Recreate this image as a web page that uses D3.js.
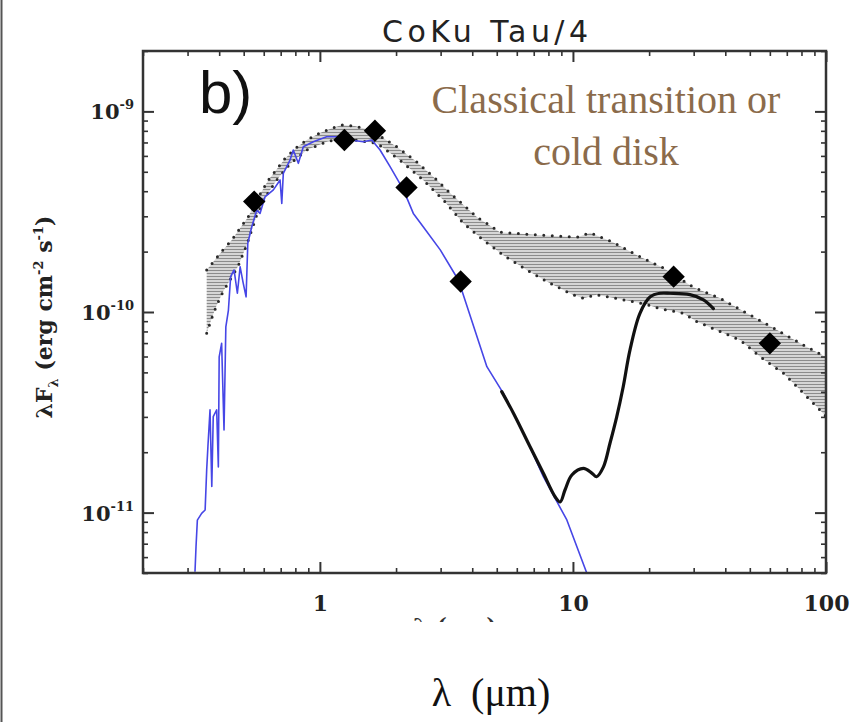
<!DOCTYPE html>
<html>
<head>
<meta charset="utf-8">
<script src="https://cdn.jsdelivr.net/npm/d3@7"></script>
<style>
  body { margin: 0; background: #fff; }
  svg { display: block; }
</style>
</head>
<body>
<script>
// ---- chart data ----
const title = "CoKu Tau/4"
const panelTag = "b)"
const classLines = ["Classical transition or", "cold disk"]
const xTickValues = [1, 10, 100]
const yTickValues = [1e-9, 1e-10, 1e-11]
const yTickExp = ["-9", "-10", "-11"]

// quartile band of the median Taurus SED, [lambda (um), lambda F_lambda]
const bandUpper = [
  [0.357, 1.62e-10], [0.385, 1.82e-10], [0.414, 2.04e-10], [0.448, 2.28e-10],
  [0.484, 2.62e-10], [0.52, 2.97e-10], [0.569, 3.70e-10], [0.626, 4.55e-10],
  [0.729, 5.83e-10], [0.805, 6.57e-10], [0.887, 7.2e-10], [1.0, 7.8e-10],
  [1.114, 8.23e-10], [1.22, 8.55e-10], [1.377, 8.45e-10], [1.578, 8.07e-10],
  [1.777, 7.37e-10], [2.01, 6.67e-10], [2.41, 5.61e-10], [2.9, 4.55e-10],
  [3.27, 3.92e-10], [4.18, 2.97e-10], [5.15, 2.50e-10], [7.22, 2.42e-10],
  [10.4, 2.36e-10], [11.7, 2.48e-10], [14.4, 2.23e-10], [17.9, 1.92e-10],
  [22.7, 1.66e-10], [29.9, 1.33e-10], [38.2, 1.17e-10], [50.1, 9.66e-11],
  [64.1, 8.13e-11], [81.2, 6.85e-11], [100, 5.96e-11]
]
const bandLower = [
  [0.357, 7.83e-11], [0.374, 9.33e-11], [0.391, 1.08e-10], [0.414, 1.26e-10],
  [0.441, 1.44e-10], [0.475, 1.69e-10], [0.514, 2.16e-10], [0.563, 3.04e-10],
  [0.617, 3.83e-10], [0.675, 4.55e-10], [0.762, 5.47e-10], [0.887, 6.42e-10],
  [1.065, 7.06e-10], [1.238, 7.34e-10], [1.68, 6.93e-10], [2.07, 5.72e-10],
  [2.56, 4.55e-10], [3.08, 3.61e-10], [3.69, 2.77e-10], [4.43, 2.28e-10],
  [5.31, 1.92e-10], [6.57, 1.62e-10], [8.12, 1.39e-10], [10.0, 1.22e-10],
  [11.0, 1.17e-10], [12.4, 1.22e-10], [15.8, 1.15e-10], [19.0, 1.10e-10],
  [22.1, 1.04e-10], [27.3, 9.85e-11], [30.9, 8.95e-11], [37.0, 8.13e-11],
  [45.8, 7.25e-11], [54.9, 5.98e-11], [67.9, 4.95e-11], [81.5, 3.93e-11],
  [92.0, 3.37e-11], [100, 3.01e-11]
]

// stellar photosphere model (blue)
const photosphere = [
  [0.321, 5.07e-12], [0.324, 6.76e-12], [0.328, 9.18e-12], [0.341, 9.92e-12],
  [0.352, 1.03e-11], [0.357, 1.63e-11], [0.361, 2.13e-11], [0.368, 3.25e-11],
  [0.374, 1.35e-11], [0.379, 3.01e-11], [0.391, 3.25e-11], [0.397, 1.69e-11],
  [0.400, 5.98e-11], [0.409, 6.98e-11], [0.418, 2.58e-11], [0.425, 8.44e-11],
  [0.435, 1.02e-10], [0.444, 1.50e-10], [0.458, 1.62e-10], [0.472, 1.24e-10],
  [0.484, 1.68e-10], [0.498, 1.39e-10], [0.511, 1.19e-10], [0.519, 2.20e-10],
  [0.538, 2.66e-10], [0.563, 3.22e-10], [0.580, 3.10e-10], [0.607, 3.75e-10],
  [0.655, 4.06e-10], [0.696, 4.55e-10], [0.707, 3.48e-10], [0.717, 4.91e-10],
  [0.762, 5.72e-10], [0.785, 6.42e-10], [0.822, 5.51e-10], [0.860, 6.67e-10],
  [0.942, 7.06e-10], [1.064, 7.48e-10], [1.166, 7.48e-10], [1.316, 7.20e-10],
  [1.485, 7.06e-10], [1.603, 7.20e-10], [1.729, 6.42e-10], [1.894, 5.30e-10],
  [2.14, 4.06e-10], [2.34, 3.10e-10], [2.56, 2.66e-10], [2.99, 2.04e-10],
  [3.53, 1.44e-10], [4.57, 5.34e-11], [5.31, 3.93e-11], [6.57, 2.30e-11],
  [7.64, 1.51e-11], [9.46, 9.19e-12], [11.34, 5.0e-12]
]

// Spitzer IRS spectrum (black)
const irsSpectrum = [
  [5.23, 4.01e-11], [5.82, 3.13e-11], [6.77, 2.13e-11], [7.64, 1.57e-11],
  [8.50, 1.20e-11], [8.90, 1.13e-11], [9.31, 1.30e-11], [9.90, 1.54e-11],
  [11.0, 1.66e-11], [11.9, 1.57e-11], [12.4, 1.51e-11], [13.2, 1.69e-11],
  [14.0, 2.21e-11], [14.9, 3.01e-11], [15.8, 4.24e-11], [16.8, 6.46e-11],
  [18.4, 9.85e-11], [20.2, 1.19e-10], [22.1, 1.24e-10], [24.2, 1.24e-10],
  [29.0, 1.22e-10], [32.8, 1.15e-10], [35.9, 1.04e-10]
]

// broad-band photometry (diamonds)
const photometry = [
  [0.55, 3.55e-10], [1.25, 7.2e-10], [1.65, 8.01e-10], [2.2, 4.18e-10],
  [3.6, 1.42e-10], [25, 1.50e-10], [60, 6.98e-11]
]

// ---- layout ----
const W = 852, H = 722
const box = { left: 143, right: 826, top: 51, bottom: 573 }

const svg = d3.select("body").append("svg")
  .attr("width", W)
  .attr("height", H)

const x = d3.scaleLog().domain([0.2, 100]).range([box.left, box.right])
const y = d3.scaleLog().domain([5e-12, 2e-9]).range([box.bottom, box.top])

const defs = svg.append("defs")
defs.append("clipPath").attr("id", "plotclip")
  .append("rect")
  .attr("x", box.left).attr("y", box.top)
  .attr("width", box.right - box.left).attr("height", box.bottom - box.top)

// horizontal hatching used for the band
const hatch = defs.append("pattern")
  .attr("id", "hatch")
  .attr("patternUnits", "userSpaceOnUse")
  .attr("width", 8).attr("height", 3)
hatch.append("rect").attr("width", 8).attr("height", 3).attr("fill", "#d6d6d6")
hatch.append("line")
  .attr("x1", 0).attr("x2", 8).attr("y1", 0.5).attr("y2", 0.5)
  .attr("stroke", "#8c8c8c").attr("stroke-width", 1)

// clip for the half-hidden original axis title below the ticks
defs.append("clipPath").attr("id", "cutclip")
  .append("rect").attr("x", 380).attr("y", 600).attr("width", 160).attr("height", 22)

// left page border
svg.append("line")
  .attr("x1", 1.5).attr("x2", 1.5).attr("y1", 0).attr("y2", H)
  .attr("stroke", "#555").attr("stroke-width", 2)

const plot = svg.append("g").attr("clip-path", "url(#plotclip)")

const line = d3.line()
  .x(d => x(d[0]))
  .y(d => y(d[1]))

// band
const bandPoly = bandUpper.concat(bandLower.slice().reverse())
plot.append("path")
  .attr("d", line(bandPoly) + "Z")
  .attr("fill", "url(#hatch)")
  .attr("stroke", "none")

for (const edge of [bandUpper, bandLower]) {
  plot.append("path")
    .attr("d", line(edge))
    .attr("fill", "none")
    .attr("stroke", "#2a2a2a")
    .attr("stroke-width", 3)
    .attr("stroke-linecap", "round")
    .attr("stroke-dasharray", "0,8.5")
}

// photosphere
plot.append("path")
  .attr("d", line(photosphere))
  .attr("fill", "none")
  .attr("stroke", "#4646e6")
  .attr("stroke-width", 1.6)
  .attr("stroke-linejoin", "round")

// IRS spectrum
plot.append("path")
  .attr("d", line.curve(d3.curveCatmullRom)(irsSpectrum))
  .attr("fill", "none")
  .attr("stroke", "#111")
  .attr("stroke-width", 3.2)
  .attr("stroke-linecap", "round")
line.curve(d3.curveLinear)

// photometry diamonds
const diamond = d3.symbol().type(d3.symbolSquare).size(250)
plot.selectAll(".phot")
  .data(photometry)
  .join("path")
  .attr("class", "phot")
  .attr("d", diamond)
  .attr("transform", d => `translate(${x(d[0])},${y(d[1])}) rotate(45)`)
  .attr("fill", "#000")

// ---- axes ----
const isMajor = v => Math.abs(Math.log10(v) - Math.round(Math.log10(v))) < 1e-6
const xMinor = x.ticks().filter(v => !isMajor(v))
const yMinor = y.ticks().filter(v => !isMajor(v))
const axisColor = "#333"

function drawTicks(axis, translate, values, size, width, labels) {
  const g = svg.append("g")
    .attr("transform", translate)
    .call(axis.tickValues(values).tickSizeInner(-size).tickSizeOuter(0)
      .tickPadding(22).tickFormat(labels ? d => d : ""))
  g.select(".domain").remove()
  g.selectAll(".tick line").attr("stroke", axisColor).attr("stroke-width", width)
  return g
}

const xLab = drawTicks(d3.axisBottom(x), `translate(0,${box.bottom})`, xTickValues, 11, 2, true)
xLab.selectAll("text")
  .attr("font-family", "DejaVu Serif")
  .attr("font-weight", "bold")
  .attr("font-size", 22)
  .attr("fill", "#222")
drawTicks(d3.axisBottom(x), `translate(0,${box.bottom})`, xMinor, 5, 1.6, false)
drawTicks(d3.axisTop(x), `translate(0,${box.top})`, xTickValues, 11, 2, false)
drawTicks(d3.axisTop(x), `translate(0,${box.top})`, xMinor, 5, 1.6, false)
drawTicks(d3.axisLeft(y), `translate(${box.left},0)`, yTickValues, 11, 2, false)
drawTicks(d3.axisLeft(y), `translate(${box.left},0)`, yMinor, 5, 1.6, false)
drawTicks(d3.axisRight(y), `translate(${box.right},0)`, yTickValues, 11, 2, false)
drawTicks(d3.axisRight(y), `translate(${box.right},0)`, yMinor, 5, 1.6, false)

// frame
svg.append("rect")
  .attr("x", box.left).attr("y", box.top)
  .attr("width", box.right - box.left).attr("height", box.bottom - box.top)
  .attr("fill", "none")
  .attr("stroke", axisColor)
  .attr("stroke-width", 2.5)

// y tick labels with exponents
yTickValues.forEach((v, i) => {
  const t = svg.append("text")
    .attr("x", 134)
    .attr("y", y(v) + 8)
    .attr("text-anchor", "end")
    .attr("font-family", "DejaVu Serif")
    .attr("font-weight", "bold")
    .attr("font-size", 21)
    .attr("fill", "#222")
  t.append("tspan").text("10")
  t.append("tspan").attr("dy", -10).attr("font-size", 13).text(yTickExp[i])
})

// y axis title
const yTitle = svg.append("text")
  .attr("transform", "translate(52,317) rotate(-90)")
  .attr("text-anchor", "middle")
  .attr("font-family", "DejaVu Serif")
  .attr("font-weight", "bold")
  .attr("font-size", 22)
  .attr("fill", "#222")
yTitle.append("tspan").text("\u03bbF")
yTitle.append("tspan").attr("dy", 6).attr("font-size", 13).text("\u03bb")
yTitle.append("tspan").attr("dy", -6).text(" (erg cm")
yTitle.append("tspan").attr("dy", -9).attr("font-size", 13).text("-2")
yTitle.append("tspan").attr("dy", 9).text(" s")
yTitle.append("tspan").attr("dy", -9).attr("font-size", 13).text("-1")
yTitle.append("tspan").attr("dy", 9).text(")")

// title
svg.append("text")
  .attr("x", 485).attr("y", 42)
  .attr("text-anchor", "middle")
  .attr("font-family", "DejaVu Sans")
  .attr("font-size", 30)
  .attr("fill", "#222")
  .attr("textLength", 206)
  .attr("lengthAdjust", "spacing")
  .text(title)

// panel tag and classification
svg.append("text")
  .attr("x", 199).attr("y", 113)
  .attr("font-family", "Liberation Sans")
  .attr("font-size", 60)
  .attr("fill", "#111")
  .text(panelTag)

classLines.forEach((s, i) => {
  svg.append("text")
    .attr("x", 606).attr("y", 113 + i * 52)
    .attr("text-anchor", "middle")
    .attr("font-family", "Liberation Serif")
    .attr("font-size", 40)
    .attr("fill", "#8b6b4b")
    .text(s)
})

// remnant of the original x title, cut off by the crop
svg.append("text")
  .attr("clip-path", "url(#cutclip)")
  .attr("x", 455).attr("y", 634)
  .attr("text-anchor", "middle")
  .attr("font-family", "DejaVu Serif")
  .attr("font-weight", "bold")
  .attr("font-size", 22)
  .attr("fill", "#333")
  .text("\u03bb (\u03bcm)")

// x axis title
svg.append("text")
  .attr("x", 491).attr("y", 706)
  .attr("text-anchor", "middle")
  .attr("font-family", "Liberation Serif")
  .attr("font-size", 40)
  .attr("fill", "#111")
  .attr("xml:space", "preserve")
  .text("\u03bb  (\u03bcm)")
</script>
</body>
</html>
